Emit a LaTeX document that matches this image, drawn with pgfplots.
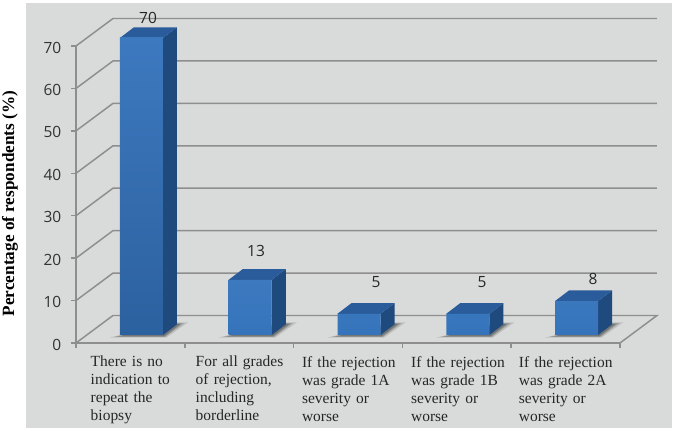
\documentclass[border=0pt]{standalone}
\usepackage{fontspec}
\setmainfont{Liberation Serif}
\newfontfamily\numfont{Open Sans}
\usepackage{pgfplots}
\pgfplotsset{compat=1.18}

\definecolor{panel}{HTML}{D9DADA}
\definecolor{gridgrey}{HTML}{8E8E8E}
\definecolor{barsoft}{HTML}{3D79BF}
\definecolor{barmid}{HTML}{3574BB}
\definecolor{barlow}{HTML}{2C619F}
\definecolor{barside}{HTML}{1F4A7D}
\definecolor{bartop}{HTML}{2A5C9C}

\newlength{\px}
\setlength{\px}{0.75pt}

\pgfplotsset{
    common/.style={
        scale only axis,
        width=544\px, height=297\px,
        xmin=0, xmax=5,
        ymin=0, ymax=70,
        clip=false,
    },
    wall/.style={gridgrey, line width=1.1pt, forget plot},
    side/.style={fill=barside, draw=none, forget plot},
    lid/.style={fill=bartop, draw=none, forget plot},
}

% soft shadow on the floor, three layers
\newcommand{\floorshadow}[1]{
    \fill[black, opacity=0.12] (axis cs:#1-0.29,-0.6) -- (axis cs:#1+0.23,-0.6) -- (axis cs:#1+0.43,3.0) -- (axis cs:#1+0.30,3.0) -- cycle;
    \fill[black, opacity=0.18] (axis cs:#1-0.25,-0.45) -- (axis cs:#1+0.22,-0.45) -- (axis cs:#1+0.39,2.8) -- (axis cs:#1+0.30,2.8) -- cycle;
    \fill[black, opacity=0.24] (axis cs:#1-0.21,-0.3) -- (axis cs:#1+0.21,-0.3) -- (axis cs:#1+0.36,2.6) -- (axis cs:#1+0.30,2.6) -- cycle;
}

\begin{document}
\begin{tikzpicture}[x=\px, y=\px]
\path[use as bounding box] (0,0) rectangle (675,431);
\fill[panel] (26,3) rectangle (672,428);

% axes, walls and grid
\begin{axis}[
    common,
    at={(76\px,88\px)}, anchor=south west,
    axis lines=left,
    axis line style={-, gridgrey, line width=1.1pt},
    tick style={gridgrey, line width=1.1pt},
    tick align=outside,
    ytick={0,10,...,70},
    major tick length=5\px,
    minor tick length=5\px,
    xtick={0.595,1.56,2.537,3.54,4.53},
    minor xtick={0,1,2,3,4,5},
    x tick style={draw=none},
    minor x tick style={draw=gridgrey, line width=1.1pt},
    xticklabels={
        {There is no\\indication to\\repeat the\\biopsy},
        {For all grades\\of rejection,\\including\\borderline},
        {If the rejection\\was grade 1A\\severity or\\worse},
        {If the rejection\\was grade 1B\\severity or\\worse},
        {If the rejection\\was grade 2A\\severity or\\worse}},
    xticklabel style={align=left, text width=100\px, anchor=north, yshift=-3.5\px,
        font=\fontsize{11.6}{13.5}\selectfont, text=black!85},
    /pgf/number format/assume math mode=true,
    yticklabel style={font=\numfont\fontsize{11.6}{13}\selectfont, text=black!80, xshift=-5\px, yshift=-1.5\px},
]
\addplot[wall] coordinates {(0,0) (0.34,6.48) (5.34,6.48) (5,0)};
\addplot[wall] coordinates {(0,10) (0.34,16.48) (5.34,16.48)};
\addplot[wall] coordinates {(0,20) (0.34,26.48) (5.34,26.48)};
\addplot[wall] coordinates {(0,30) (0.34,36.48) (5.34,36.48)};
\addplot[wall] coordinates {(0,40) (0.34,46.48) (5.34,46.48)};
\addplot[wall] coordinates {(0,50) (0.34,56.48) (5.34,56.48)};
\addplot[wall] coordinates {(0,60) (0.34,66.48) (5.34,66.48)};
\addplot[wall] coordinates {(0,70) (0.34,76.48) (5.34,76.48)};
\end{axis}

% bars, shifted onto the floor
\begin{axis}[
    common,
    at={(87\px,96\px)}, anchor=south west,
    hide axis,
]
\floorshadow{0.5}
\floorshadow{1.5}
\floorshadow{2.5}
\floorshadow{3.5}
\floorshadow{4.5}

\addplot[side] coordinates {(0.698,0) (0.827,2.52) (0.827,72.52) (0.698,70)} -- cycle;
\addplot[side] coordinates {(1.698,0) (1.827,2.52) (1.827,15.52) (1.698,13)} -- cycle;
\addplot[side] coordinates {(2.698,0) (2.827,2.52) (2.827,7.52) (2.698,5)} -- cycle;
\addplot[side] coordinates {(3.698,0) (3.827,2.52) (3.827,7.52) (3.698,5)} -- cycle;
\addplot[side] coordinates {(4.698,0) (4.827,2.52) (4.827,10.52) (4.698,8)} -- cycle;

\addplot[lid] coordinates {(0.302,70) (0.698,70) (0.827,72.52) (0.431,72.52)} -- cycle;
\addplot[lid] coordinates {(1.302,13) (1.698,13) (1.827,15.52) (1.431,15.52)} -- cycle;
\addplot[lid] coordinates {(2.302,5) (2.698,5) (2.827,7.52) (2.431,7.52)} -- cycle;
\addplot[lid] coordinates {(3.302,5) (3.698,5) (3.827,7.52) (3.431,7.52)} -- cycle;
\addplot[lid] coordinates {(4.302,8) (4.698,8) (4.827,10.52) (4.431,10.52)} -- cycle;

\addplot[ybar, bar width=43\px, draw=none, top color=barsoft, middle color=barmid, bottom color=barlow]
    coordinates {(0.5,70)};
\addplot[ybar, bar width=43\px, draw=none, top color=barsoft, bottom color=barmid]
    coordinates {(1.5,13) (2.5,5) (3.5,5) (4.5,8)};
\end{axis}

% value labels
\begin{scope}[font=\numfont\fontsize{11.6}{13}\selectfont, text=black!85]
\node at (148,413) {70};
\node at (256,180) {13};
\node at (376,149) {5};
\node at (482,149) {5};
\node at (593,152) {8};
\end{scope}

\node[rotate=90, font=\bfseries\fontsize{12.9}{15}\selectfont] at (10,227.5) {Percentage of respondents (\%)};
\end{tikzpicture}
\end{document}
